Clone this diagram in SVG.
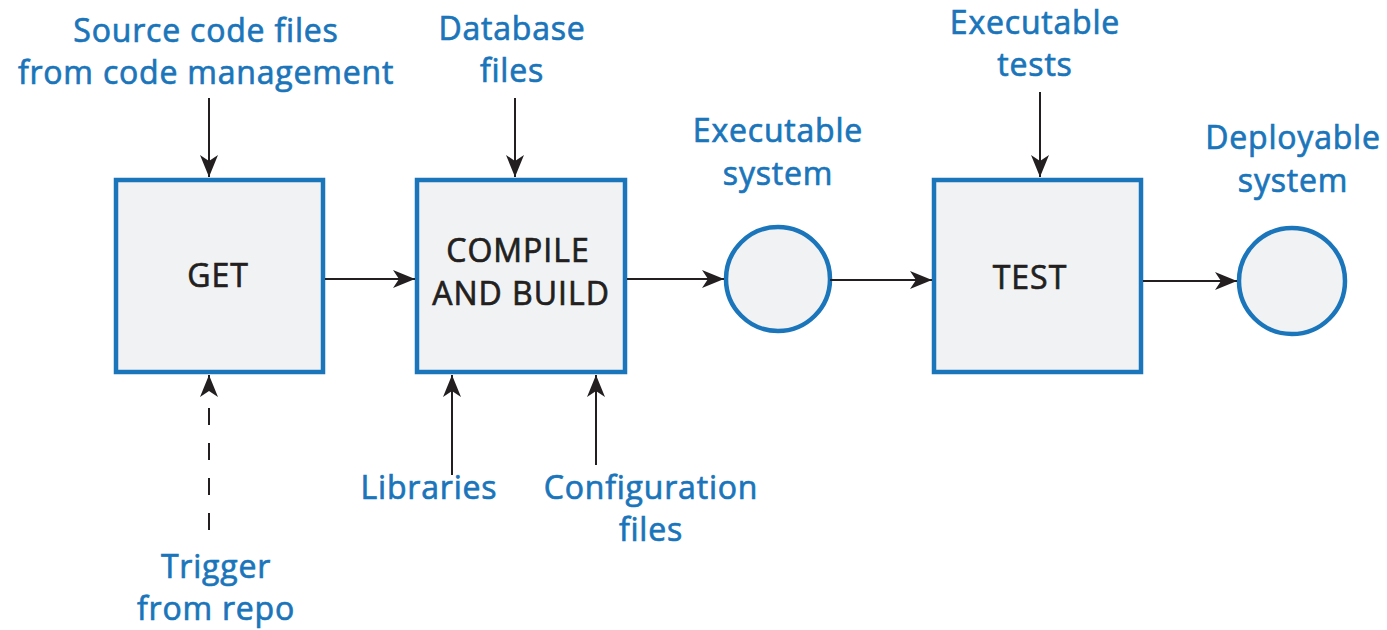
<svg xmlns="http://www.w3.org/2000/svg" width="1387" height="630" viewBox="0 0 1387 630">
<style>
.box{fill:#f1f2f4;stroke:#1a75bb;stroke-width:4.5}
.lbl{font-family:"Open Sans","Noto Sans",sans-serif;font-size:32px;letter-spacing:0.8px;fill:#1a75bb;stroke:#1a75bb;stroke-width:0.7px;text-anchor:middle}
.in{font-family:"Open Sans","Noto Sans",sans-serif;font-size:32px;letter-spacing:1px;fill:#231f20;stroke:#231f20;stroke-width:0.7px;text-anchor:middle}
.ln{stroke:#231f20;stroke-width:2;fill:none}
</style>
<defs>
<marker id="ah" viewBox="0 0 22 18" refX="22" refY="9" markerWidth="22" markerHeight="18" markerUnits="userSpaceOnUse" orient="auto">
<path d="M0,0 L22,9 L0,18 L6,9 Z" fill="#231f20"/>
</marker>
</defs>
<g id="get"><rect class="box" x="116" y="180" width="207" height="192"/><text class="in" x="218" y="287">GET</text></g>
<g id="compile"><rect class="box" x="417" y="180" width="208" height="192"/><text class="in" x="518" y="262">COMPILE</text><text class="in" x="521" y="305">AND BUILD</text></g>
<g id="exec"><circle class="box" cx="778" cy="279" r="52"/></g>
<g id="test"><rect class="box" x="934" y="180" width="207" height="192"/><text class="in" x="1030" y="289">TEST</text></g>
<g id="deploy"><circle class="box" cx="1292" cy="281" r="53"/></g>
<g id="labels">
<text class="lbl" x="206" y="42">Source code files</text>
<text class="lbl" x="206" y="84">from code management</text>
<text class="lbl" x="512" y="40">Database</text>
<text class="lbl" x="512" y="82">files</text>
<text class="lbl" x="778" y="142">Executable</text>
<text class="lbl" x="778" y="185">system</text>
<text class="lbl" x="1035" y="34">Executable</text>
<text class="lbl" x="1035" y="76">tests</text>
<text class="lbl" x="1293" y="149">Deployable</text>
<text class="lbl" x="1293" y="192">system</text>
<text class="lbl" x="429" y="499">Libraries</text>
<text class="lbl" x="651" y="499">Configuration</text>
<text class="lbl" x="651" y="541">files</text>
<text class="lbl" x="216" y="578">Trigger</text>
<text class="lbl" x="216" y="620">from repo</text>
</g>
<g id="connectors">
<line class="ln" x1="325" y1="279" x2="415" y2="279" marker-end="url(#ah)"/>
<line class="ln" x1="627" y1="279" x2="724" y2="279" marker-end="url(#ah)"/>
<line class="ln" x1="830" y1="280" x2="932" y2="280" marker-end="url(#ah)"/>
<line class="ln" x1="1143" y1="281" x2="1237" y2="281" marker-end="url(#ah)"/>
<line class="ln" x1="209" y1="98" x2="209" y2="177" marker-end="url(#ah)"/>
<line class="ln" x1="515" y1="98" x2="515" y2="177" marker-end="url(#ah)"/>
<line class="ln" x1="1040" y1="92" x2="1040" y2="177" marker-end="url(#ah)"/>
<line class="ln" x1="209" y1="530" x2="209" y2="375" stroke-dasharray="17,18" marker-end="url(#ah)"/>
<line class="ln" x1="452" y1="475" x2="452" y2="375" marker-end="url(#ah)"/>
<line class="ln" x1="596" y1="465" x2="596" y2="375" marker-end="url(#ah)"/>
</g>
</svg>
